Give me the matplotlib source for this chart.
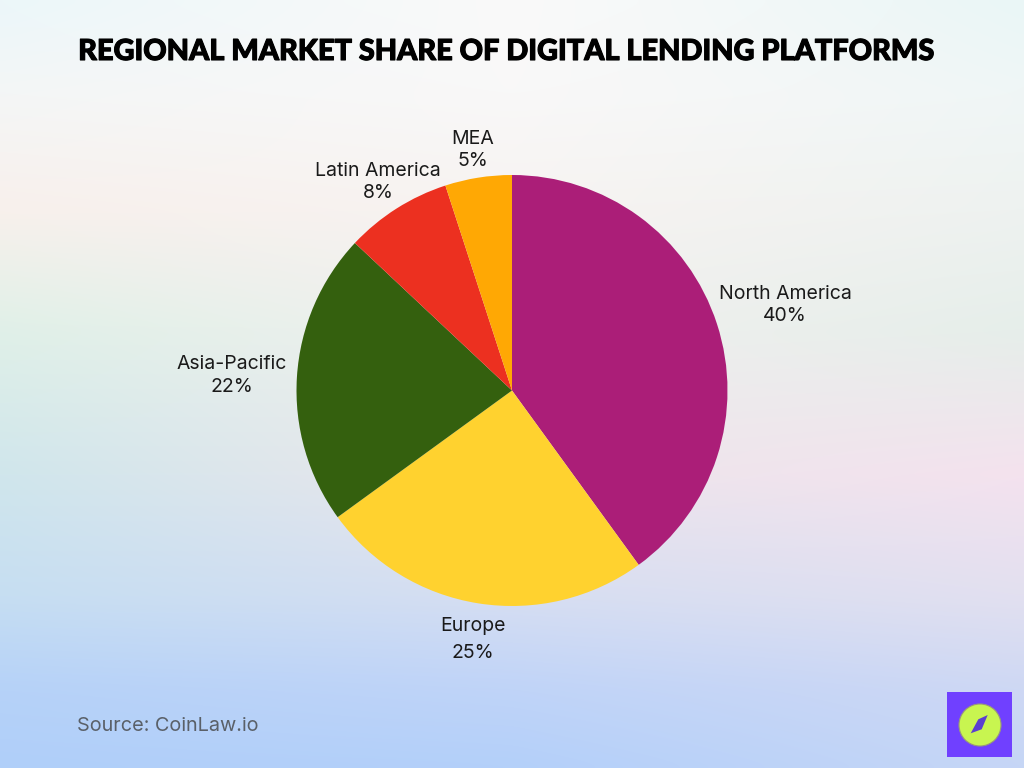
import numpy as np
import matplotlib
matplotlib.use("Agg")
import matplotlib.pyplot as plt
import matplotlib.patheffects as pe
from matplotlib.patches import Circle, Polygon

labels = ["North America", "Europe", "Asia-Pacific", "Latin America", "MEA"]
shares = [40, 25, 22, 8, 5]
colors = ["#AB1E78", "#FFD22F", "#34600E", "#EC3020", "#FFA804"]
title = "REGIONAL MARKET SHARE OF DIGITAL LENDING PLATFORMS"
source = "Source: CoinLaw.io"

W, H = 1024, 768
fig = plt.figure(figsize=(W/100, H/100), dpi=100)

bg = fig.add_axes([0, 0, 1, 1], zorder=0)
bg.axis("off")
anchors_y = np.array([0, .12, .27, .43, .62, .78, .9, 1.0])
left = np.array([[236,247,250],[244,246,246],[248,240,236],[224,240,232],[208,230,236],[198,222,242],[182,210,248],[176,207,250]])/255
mid = np.array([[250,250,250],[249,248,248],[247,243,241],[240,240,238],[236,230,236],[214,222,242],[192,212,248],[180,208,250]])/255
right = np.array([[234,246,246],[240,246,246],[238,242,240],[230,238,234],[244,226,238],[226,224,240],[206,216,244],[198,214,246]])/255
ny, nx = 96, 128
img = np.zeros((ny, nx, 3))
ys = np.linspace(0, 1, ny)
xs = np.linspace(0, 1, nx)
for c in range(3):
    l = np.interp(ys, anchors_y, left[:, c])
    m = np.interp(ys, anchors_y, mid[:, c])
    r = np.interp(ys, anchors_y, right[:, c])
    for i in range(ny):
        img[i, :, c] = np.interp(xs, [0, .5, 1], [l[i], m[i], r[i]])
bg.imshow(img, extent=[0, 1, 0, 1], aspect="auto", origin="upper", interpolation="bicubic")

R = 215.5
cx, cy = 512, 390.5
ax = fig.add_axes([(cx-R)/W, 1-(cy+R)/H, 2*R/W, 2*R/H], zorder=1)
ax.pie(shares, colors=colors, startangle=90, counterclock=False, radius=1.0,
       wedgeprops=dict(linewidth=0))
ax.set_xlim(-1, 1); ax.set_ylim(-1, 1)
ax.axis("off")

ov = fig.add_axes([0, 0, 1, 1], zorder=2)
ov.set_xlim(0, W); ov.set_ylim(H, 0); ov.axis("off")
ov.patch.set_alpha(0)

t = ov.text(507, 52, title, ha="center", va="center", fontsize=22, fontweight="black",
            family="Lato", color="black")
t.set_path_effects([pe.withStroke(linewidth=0.8, foreground="black")])
fig.canvas.draw()
tw = t.get_window_extent().width
t.set_fontsize(22 * 856 / tw)

lab_xy = [(785, 294, 316), (473, 626, 653), (232, 364, 387), (378, 171, 193), (473, 139, 161)]
for name, val, (x, y1, y2) in zip(labels, shares, lab_xy):
    ov.text(x, y1, name, ha="center", va="center", fontsize=14, family="Inter", color="#1a1a1a")
    ov.text(x, y2, f"{val}%", ha="center", va="center", fontsize=14, family="Inter", color="#1a1a1a")

ov.text(77, 726, source, ha="left", va="center", fontsize=14.3, family="Inter", color="#5a6068")

ov.add_patch(plt.Rectangle((947, 692), 65, 65, color="#7040FF", lw=0))
ov.add_patch(Circle((980, 725), 21, facecolor="#C8F550", edgecolor="#9a9a78", lw=0.8))
ov.add_patch(Polygon([(970.7, 733.3), (978.3, 719.3), (987.7, 715), (981.7, 729.3)], color="#5B3FD0", lw=0))

fig.savefig("out.png", dpi=100)
